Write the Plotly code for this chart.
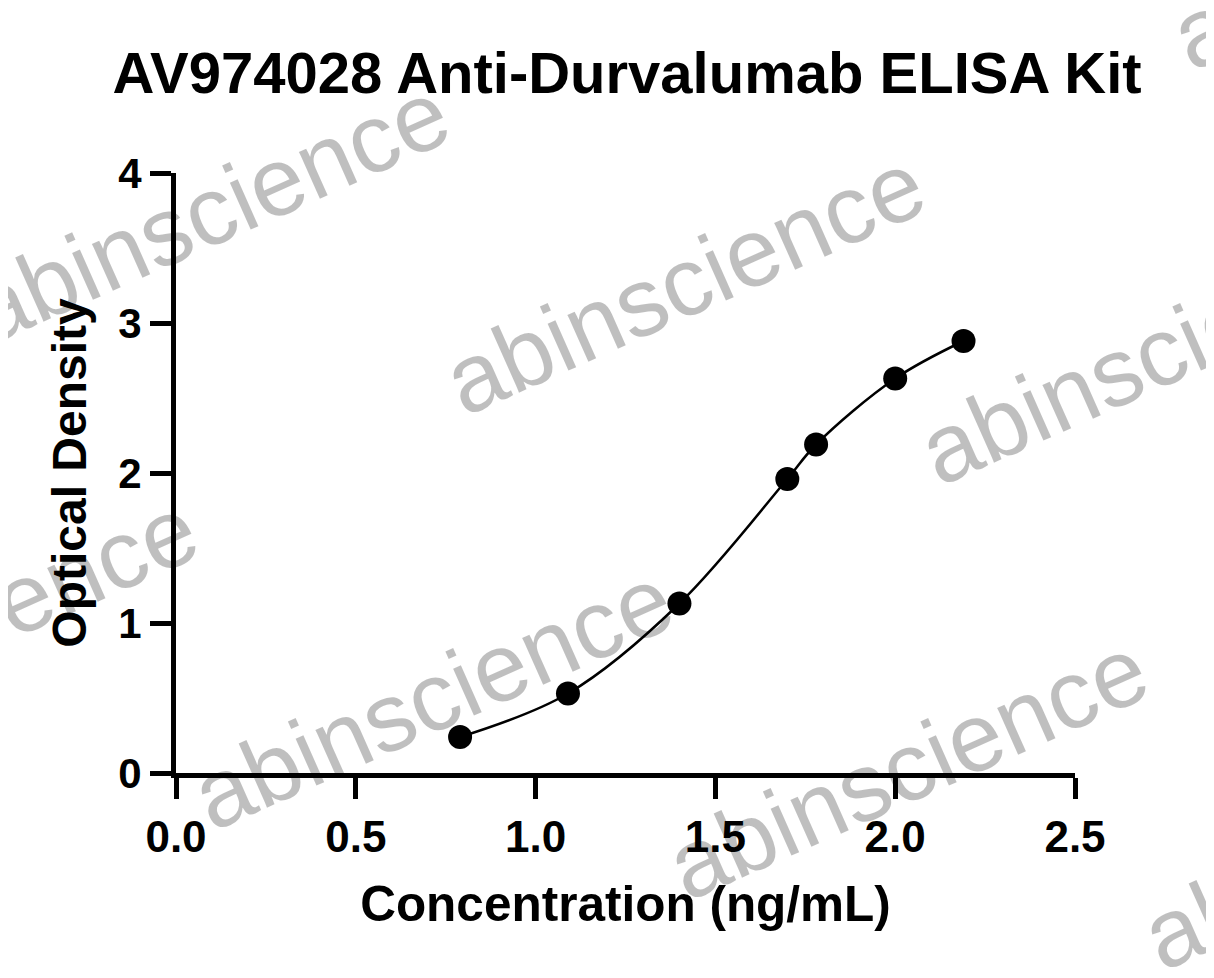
import plotly.graph_objects as go

# ---- data ----
log_conc = [0.79, 1.09, 1.40, 1.70, 1.78, 2.00, 2.19]
optical_density = [0.24, 0.53, 1.13, 1.96, 2.19, 2.63, 2.88]

x_ticks = [0.0, 0.5, 1.0, 1.5, 2.0, 2.5]
x_tick_labels = ["0.0", "0.5", "1.0", "1.5", "2.0", "2.5"]
y_ticks = [0, 1, 2, 3, 4]
y_tick_labels = ["0", "1", "2", "3", "4"]

title_text = "AV974028 Anti-Durvalumab ELISA Kit"
x_title = "Concentration (ng/mL)"
y_title = "Optical Density"
watermark = "abinscience"

# ---- layout geometry (page has an 8px body margin) ----
OFF = 8
W, H = 1214 - OFF, 978 - OFF
L, T = 176 - OFF, 173 - OFF
PW, PH = 899, 600
R, B = W - L - PW, H - T - PH

FONT = "Liberation Sans, Arial, sans-serif"

fig = go.Figure()

fig.add_trace(go.Scatter(
    x=log_conc, y=optical_density,
    mode="lines+markers",
    line=dict(color="black", width=2.5, shape="spline", smoothing=1.0),
    marker=dict(color="black", size=24, line=dict(width=0)),
    showlegend=False, hoverinfo="x+y",
))

# watermark lattice (pixel centres in the reference picture)
wm_centres = [(209, 212), (684, 282), (1159, 352),
              (-43, 627), (432, 697), (907, 767), (1382, 837),
              (936, -133), (1411, -63)]
annotations = []
for (px, py) in wm_centres:
    annotations.append(dict(
        text=watermark, xref="paper", yref="paper",
        x=(px - OFF - L) / PW, y=(H - B - (py - OFF)) / PH,
        xanchor="center", yanchor="middle",
        showarrow=False, textangle=-24,
        font=dict(family=FONT, size=97, color="rgba(0,0,0,0.25)"),
    ))

fig.update_layout(
    width=W, height=H,
    margin=dict(l=L, r=R, t=T, b=B, pad=0),
    paper_bgcolor="white", plot_bgcolor="white",
    title=dict(text=title_text, x=(627 - OFF) / W, xanchor="center",
               y=1 - 64.5 / H, yanchor="middle", xref="container", yref="container",
               font=dict(family=FONT, size=58, color="black", weight="bold")),
    xaxis=dict(range=[0, 2.5], tickvals=x_ticks, ticktext=x_tick_labels,
               showgrid=False, zeroline=False, showline=True, linecolor="black",
               linewidth=5, ticks="outside", ticklen=21, tickwidth=5, tickcolor="black",
               tickfont=dict(family=FONT, size=44, color="black", weight="bold"),
               title=dict(text=x_title, standoff=28,
                          font=dict(family=FONT, size=49.5, color="black", weight="bold"))),
    yaxis=dict(range=[0, 4], tickvals=y_ticks, ticktext=y_tick_labels,
               showgrid=False, zeroline=False, showline=True, linecolor="black",
               linewidth=5, ticks="outside", ticklen=21, tickwidth=5, tickcolor="black",
               tickfont=dict(family=FONT, size=42, color="black", weight="bold"),
               title=dict(text=y_title, standoff=18,
                          font=dict(family=FONT, size=48, color="black", weight="bold"))),
    annotations=annotations,
)

fig.write_html("out.html")
